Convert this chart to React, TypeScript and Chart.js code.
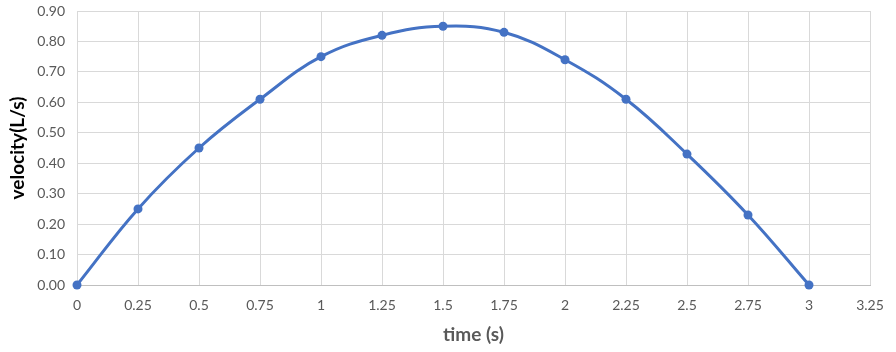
import React, { useEffect, useRef } from "react";
import { Chart, registerables } from "chart.js";

Chart.register(...registerables);

const times = [0, 0.25, 0.5, 0.75, 1, 1.25, 1.5, 1.75, 2, 2.25, 2.5, 2.75, 3];
const velocity = [0, 0.25, 0.45, 0.61, 0.75, 0.82, 0.85, 0.83, 0.74, 0.61, 0.43, 0.23, 0];
const xTitle = "time (s)";
const yTitle = "velocity(L/s)";

export default function App() {
  const ref = useRef<HTMLCanvasElement | null>(null);
  useEffect(() => {
    document.body.style.margin = "0";
    const font = "Lato, 'Open Sans', sans-serif";
    const chart = new Chart(ref.current!, {
      type: "line",
      data: {
        datasets: [
          {
            data: times.map((t, i) => ({ x: t, y: velocity[i] })),
            borderColor: "#4472C4",
            backgroundColor: "#4472C4",
            borderWidth: 3,
            pointRadius: 4.5,
            pointBorderWidth: 0,
            tension: 0.4,
            clip: false,
          },
        ],
      },
      options: {
        animation: false,
        responsive: false,
        maintainAspectRatio: false,
        layout: { padding: { left: 0, right: 26, top: 11, bottom: 0 } },
        plugins: { legend: { display: false }, tooltip: { enabled: false } },
        scales: {
          x: {
            type: "linear",
            min: 0,
            max: 3.25,
            ticks: {
              stepSize: 0.25,
              color: "#595959",
              font: { family: font, size: 14 },
              padding: 12,
              callback: (v: any) => String(Number(v)),
            },
            grid: { color: "#d9d9d9", drawTicks: false },
            border: { color: "#bfbfbf" },
            title: {
              display: true,
              text: xTitle,
              color: "#595959",
              font: { family: font, size: 19, weight: "bold" },
              padding: { top: 4, bottom: 6 },
            },
            afterFit: (s: any) => {
              s.height = 352 - 285;
              s.paddingLeft = 0;
              s.paddingRight = 0;
            },
          },
          y: {
            min: 0,
            max: 0.9,
            ticks: {
              stepSize: 0.1,
              color: "#595959",
              font: { family: font, size: 14 },
              padding: 12,
              callback: (v: any) => Number(v).toFixed(2),
            },
            grid: { color: "#d9d9d9", drawTicks: false },
            border: { color: "#d9d9d9" },
            title: {
              display: true,
              text: yTitle,
              color: "#000000",
              font: { family: font, size: 19, weight: "bold" },
              padding: { top: 6, bottom: 6 },
            },
            afterFit: (s: any) => {
              s.width = 77;
              s.paddingTop = 0;
              s.paddingBottom = 0;
            },
          },
        },
      },
    });
    return () => chart.destroy();
  }, []);
  return <canvas ref={ref} width={896} height={352} style={{ display: "block" }} />;
}
